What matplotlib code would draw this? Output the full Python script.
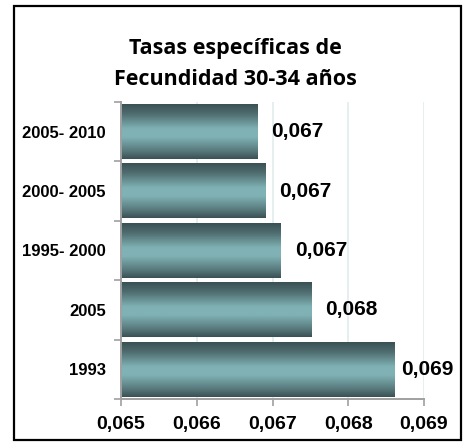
import numpy as np
import matplotlib
matplotlib.use("Agg")
import matplotlib.pyplot as plt
from matplotlib.colors import LinearSegmentedColormap
from matplotlib.patches import Rectangle

categories = ["1993", "2005", "1995- 2000", "2000- 2005", "2005- 2010"]
values = [0.06861, 0.06751, 0.06711, 0.06691, 0.06680]
value_labels = ["0,069", "0,068", "0,067", "0,067", "0,067"]
xticks = [0.065, 0.066, 0.067, 0.068, 0.069]
xtick_labels = ["0,065", "0,066", "0,067", "0,068", "0,069"]
title = "Tasas específicas de\nFecundidad 30-34 años"

W, H = 464, 445
fig = plt.figure(figsize=(W / 100, H / 100), dpi=100)
fig.patch.set_facecolor("white")

# outer border
fig.add_artist(Rectangle((14 / W, 5 / H), (461 - 14) / W, (439 - 5) / H,
                         transform=fig.transFigure, fill=False,
                         edgecolor="black", linewidth=1.6))

ax = fig.add_axes([121 / W, (H - 399) / H, (424 - 121) / W, (399 - 102) / H])

cmap = LinearSegmentedColormap.from_list(
    "cyl", [(0.0, "#3b5154"), (0.18, "#4f6d70"), (0.45, "#80b2b5"),
            (0.6, "#80b2b5"), (0.85, "#587a7d"), (1.0, "#3b5154")])
grad = np.linspace(0, 1, 256).reshape(-1, 1)

ax.set_xlim(0.065, 0.069)
ax.set_ylim(-0.5, len(categories) - 0.5)

x0 = 0.065
h = 0.92
texts = []
for i, v in enumerate(values):
    ax.imshow(grad, cmap=cmap, aspect="auto", origin="upper",
              extent=[x0, v, i - h / 2, i + h / 2], interpolation="bilinear",
              zorder=2)
    t = ax.annotate(value_labels[i], xy=(v, i), xytext=(10, 0),
                    textcoords="offset points", va="center", ha="left",
                    fontsize=15, fontweight="bold", family="Liberation Sans",
                    color="black", zorder=3, annotation_clip=False)
    texts.append((t, v))

ax.set_xlim(0.065, 0.069)
ax.set_ylim(-0.5, len(categories) - 0.5)

ax.set_xticks(xticks)
ax.set_xticklabels(xtick_labels, fontsize=14, fontweight="bold",
                   family="Liberation Sans")
ax.set_yticks(np.arange(len(categories)))
ax.set_yticklabels(categories, fontsize=12, fontweight="bold",
                   family="Liberation Sans")
ax.set_yticks(np.arange(len(categories) + 1) - 0.5, minor=True)
ax.tick_params(axis="y", which="major", length=0, pad=11)
ax.tick_params(axis="y", which="minor", length=5, color="#a0a0a0", width=1.2)
ax.tick_params(axis="x", which="major", length=5, color="#a0a0a0", width=1.2,
               pad=7.5)

ax.grid(axis="x", color="#e2ecee", linewidth=1.2, zorder=0)
ax.set_axisbelow(True)
for s in ["top", "right"]:
    ax.spines[s].set_visible(False)
for s in ["left", "bottom"]:
    ax.spines[s].set_color("#a0a0a0")
    ax.spines[s].set_linewidth(1.4)

fig.text(235 / W, 1 - 64 / H, title, ha="center", va="center",
         fontsize=15.5, fontweight="bold", family="Open Sans", linespacing=1.6)

# keep value labels inside the chart frame (like the spreadsheet does)
fig.canvas.draw()
r = fig.canvas.get_renderer()
for t, v in texts:
    bb = t.get_window_extent(r)
    right_limit = 454
    if bb.x1 > right_limit:
        shift_px = bb.x1 - right_limit
        t.set_position((10 - shift_px * 72 / 100, 0))

fig.savefig("out.png", dpi=100)
